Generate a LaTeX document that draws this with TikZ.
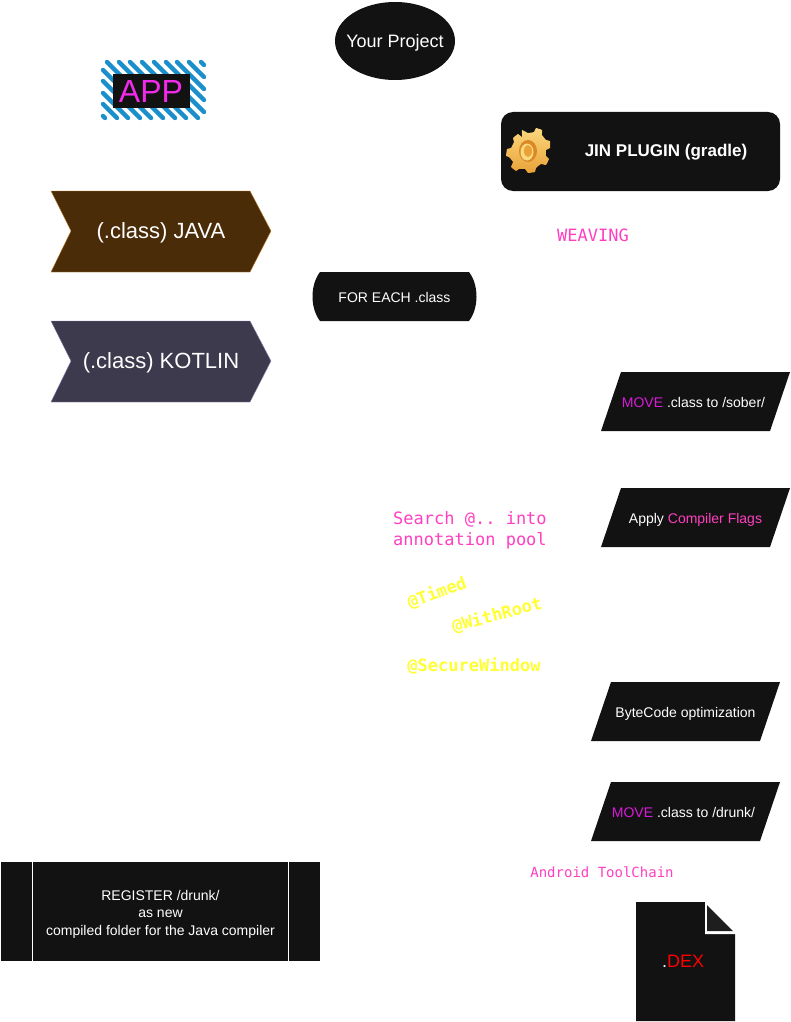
\documentclass[tikz,border=0pt]{standalone}
\usepackage{fontspec}
\setmainfont{Liberation Sans}
\newfontfamily\monof{DejaVu Sans Mono}
\frenchspacing
\definecolor{dk}{HTML}{121212}
\definecolor{mag}{HTML}{D91ADB}
\definecolor{pnk}{HTML}{FF3FC0}
\definecolor{ylw}{HTML}{FFFF33}
\definecolor{hach}{HTML}{1B8FCB}
\definecolor{brownfill}{HTML}{4A2C08}
\definecolor{brownline}{HTML}{C47F22}
\definecolor{kotfill}{HTML}{3D3A4D}
\definecolor{kotline}{HTML}{8D86B5}
\definecolor{foldfill}{HTML}{1E1E1E}
\definecolor{appmag}{HTML}{F22BEB}
\definecolor{geara}{HTML}{FBD77E}
\definecolor{gearb}{HTML}{E9A238}
\definecolor{gearc}{HTML}{D98A26}
\newcommand{\fsz}[1]{\fontsize{#1}{#1}\selectfont}
\tikzset{
  x=1pt,y=-1pt,
  txt/.style={text=white,inner sep=0,align=center,font=\fsz{14},anchor=base},
  big/.style={txt,font=\fsz{22}},
  mono/.style={text=pnk,inner sep=0,font=\monof\fsz{17},anchor=base},
  yel/.style={text=ylw,inner sep=0,font=\monof\bfseries\fsz{17}},
}
\begin{document}
\begin{tikzpicture}
\useasboundingbox (0,0) rectangle (791,1022);
% Your Project
\fill[dk] (395,41) ellipse [x radius=60,y radius=39];
\node[txt,font=\fsz{18}] (project) at (395,47.5) {Your Project};
% APP hachure
\begin{scope}[hach,line width=4.4pt,line cap=round]
\foreach \c in {-13,-1,10,22,33,45,57,68,80,92,104,115,127,139}{
  \pgfmathsetmacro{\xa}{max(103,62+\c)}
  \pgfmathsetmacro{\ya}{\xa-\c}
  \pgfmathsetmacro{\xb}{min(204,118+\c)}
  \pgfmathsetmacro{\yb}{\xb-\c}
  \draw (\xa,\ya) -- (\xb,\yb);
}
\end{scope}
\fill[dk] (113,74) rectangle (190,108);
\node[txt,text=appmag,font=\fsz{32}] (app) at (151,102.5) {APP};
% plugin
\fill[dk,rounded corners=12pt] (501,112) rectangle (780,191);
\node[txt,font=\bfseries\fsz{17}] (plugin) at (666,157) {JIN PLUGIN (gradle)};
% gear
\begin{scope}[shift={(528,151)}]
\fill[top color=geara,bottom color=gearb,draw=none]
  plot[smooth cycle,tension=0.15] coordinates {
  (-6,-21)(0,-18)(6,-19)(8,-23)(14,-21)(14,-16)(18,-11)(22,-10)(22,-3)(18,-1)
  (18,5)(21,8)(18,14)(13,13)(8,17)(7,21)(0,22)(-3,18)(-9,18)(-12,20)(-17,16)
  (-15,11)(-19,6)(-22,5)(-21,-2)(-17,-3)(-14,-9)(-15,-13)(-10,-17)(-6,-14)};
\fill[gearc] (0,0) ellipse [x radius=9,y radius=11];
\fill[geara] (-1,1) ellipse [x radius=6.5,y radius=8.5];
\fill[gearb] (0,0) ellipse [x radius=4,y radius=6];
\end{scope}
% weaving
\node[mono] (weaving) at (593,241) {WEAVING};
% chevrons
\draw[fill=brownfill,draw=brownline] (51,191)--(250,191)--(271,231)--(250,272)--(51,272)--(71,231)--cycle;
\node[big] (java) at (161,238.5) {(.class) JAVA};
\draw[fill=kotfill,draw=kotline] (51,321)--(250,321)--(271,361)--(250,402)--(51,402)--(71,361)--cycle;
\node[big] (kotlin) at (161,368.5) {(.class) KOTLIN};
% for each
\fill[dk] (320,272) -- (469,272) .. controls (479,285) and (479,308) .. (469,321) -- (320,321) .. controls (310,308) and (310,285) .. (320,272) -- cycle;
\node[txt] (foreach) at (394.5,302) {FOR EACH .class};
% parallelograms
\fill[dk] (601,431)--(621,372)--(790,372)--(770,431)--cycle;
\node[txt] (move1) at (693.5,407) {\textcolor{mag}{MOVE} .class to /sober/};
\fill[dk] (601,547)--(621,488)--(790,488)--(770,547)--cycle;
\node[txt] (apply) at (695.5,523) {Apply \textcolor{pnk}{Compiler Flags}};
\fill[dk] (591,741)--(611,682)--(780,682)--(760,741)--cycle;
\node[txt] (bytecode) at (685.5,717) {ByteCode optimization};
\fill[dk] (591,841)--(611,782)--(780,782)--(760,841)--cycle;
\node[txt] (move2) at (683.5,817) {\textcolor{mag}{MOVE} .class to /drunk/};
% search
\node[mono,anchor=base west] (search) at (393,524) {Search @.. into};
\node[mono,anchor=base west] (search2) at (393,545) {annotation pool};
% annotations
\node[yel,rotate=20] (timed) at (437,593) {@Timed};
\node[yel,rotate=15] (withroot) at (497,615) {@WithRoot};
\node[yel,anchor=base] (secure) at (474,671) {@SecureWindow};
% android
\node[mono,font=\monof\fsz{14}] (android) at (602,877) {Android ToolChain};
% register
\fill[dk] (1,862) rectangle (320,961);
\draw[white,line width=1pt] (32.5,862) -- (32.5,961) (288.5,862) -- (288.5,961);
\node[txt] (reg1) at (160.5,900) {REGISTER /drunk/};
\node[txt] (reg2) at (160.5,917.5) {as new};
\node[txt] (reg3) at (160.5,935) {compiled folder for the Java compiler};
% dex
\fill[dk] (636,902)--(705,902)--(735,932)--(735,1021)--(636,1021)--cycle;
\fill[white] (705,902) -- (707,902) -- (736,931) -- (736,934) -- (705,934) -- cycle;
\fill[foldfill] (707,905)--(733,931)--(707,931)--cycle;
\node[txt,font=\fsz{18}] (dex) at (683,967.5) {.\textcolor{red}{DEX}};
\end{tikzpicture}
\end{document}
